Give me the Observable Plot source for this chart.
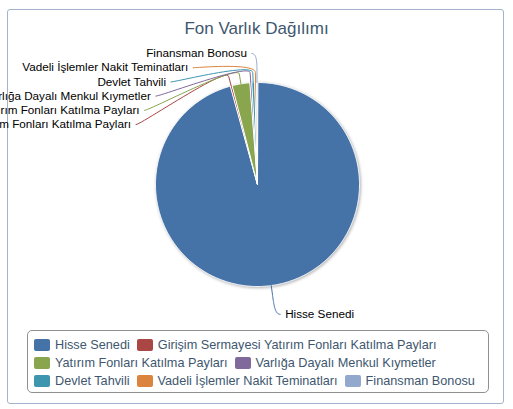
<!DOCTYPE html>
<html>
<head>
<meta charset="utf-8">
<script src="https://cdn.jsdelivr.net/npm/d3@7"></script>
<script src="https://cdn.jsdelivr.net/npm/@observablehq/plot@0.6"></script>
<style>
html, body { margin: 0; padding: 0; background: #fff; }
#wrap { position: relative; width: 513px; height: 409px; overflow: hidden; font-family: "Liberation Sans", Arial, sans-serif; }
#frame { position: absolute; left: 7px; top: 9px; width: 497px; height: 395px; border: 1px solid #a3b3cb; border-radius: 3px; box-sizing: border-box; }
#title { position: absolute; left: 0; top: 20px; width: 513px; text-align: center; font-size: 17px; line-height: 17px; color: #3E576F; }
#chart { position: absolute; left: 0; top: 44px; }
#legend { position: absolute; left: 27px; top: 330px; width: 462px; height: 63px; box-sizing: border-box; padding: 5px 4px 2px 6px; border: 1px solid #909090; border-radius: 5px; display: flex; flex-wrap: wrap; column-gap: 7px; align-content: flex-start; }
.item { display: flex; align-items: center; height: 18px; font-size: 12.7px; color: #3E576F; white-space: nowrap; }
.sym { width: 16px; height: 12px; border-radius: 2px; margin-right: 5px; }
.pie { filter: drop-shadow(1px 1px 1.5px rgba(0,0,0,0.3)); }
</style>
</head>
<body>
<div id="wrap">
  <div id="frame"></div>
  <div id="title"></div>
  <div id="chart"></div>
  <div id="legend"></div>
</div>
<script>
const titleText = "Fon Varlık Dağılımı";
const categories = [
  "Hisse Senedi",
  "Girişim Sermayesi Yatırım Fonları Katılma Payları",
  "Yatırım Fonları Katılma Payları",
  "Varlığa Dayalı Menkul Kıymetler",
  "Devlet Tahvili",
  "Vadeli İşlemler Nakit Teminatları",
  "Finansman Bonosu"
];
const shares = [95.7, 0.3, 2.8, 0.3, 0.45, 0.3, 0.15];
const colors = ["#4572A7", "#AA4643", "#89A54E", "#80699B", "#3D96AE", "#DB843D", "#92A8CD"];

// layout
const W = 513, H = 282;
const cx = 257, cy = 140, r = 102;
const labelR = r + 29, breakR = r + 10, labelGap = 14.2;

document.getElementById("title").textContent = titleText;

// slice angles (clockwise from 12 o'clock)
const total = d3.sum(shares);
let acc = 0;
const slices = categories.map((name, i) => {
  const a0 = acc / total * 2 * Math.PI;
  acc += shares[i];
  const a1 = acc / total * 2 * Math.PI;
  return {name, a0, a1, mid: (a0 + a1) / 2};
});
const pt = (a, rad) => [cx + rad * Math.sin(a), cy - rad * Math.cos(a)];

// pie polygons
const piePts = [];
for (const s of slices) {
  piePts.push({name: s.name, x: cx, y: cy});
  const n = Math.max(2, Math.ceil((s.a1 - s.a0) / (Math.PI / 360)));
  for (let k = 0; k <= n; k++) {
    const [x, y] = pt(s.a0 + (s.a1 - s.a0) * k / n, r);
    piePts.push({name: s.name, x, y});
  }
}

// label placement (stacked per side, Highcharts-like)
const labs = slices.map(s => {
  const [nx, ny] = pt(s.mid, labelR);
  return {...s, left: Math.sin(s.mid) < 0, nx, ny};
});
for (const side of [true, false]) {
  const arr = labs.filter(d => d.left === side).sort((a, b) => a.ny - b.ny);
  let prev = -Infinity;
  for (const d of arr) {
    d.y = Math.max(d.ny, prev + labelGap);
    prev = d.y;
    if (d.y === d.ny) d.x = d.nx;
    else d.x = cx + (side ? -1 : 1) * Math.sqrt(Math.max(0, labelR * labelR - (d.y - cy) ** 2));
  }
}

// soft connectors
const connPts = [];
for (const d of labs) {
  const sgn = d.left ? -1 : 1;
  const p0 = [d.x + sgn * 5, d.y];
  const c1 = [d.x, d.y];
  const b = pt(d.mid, breakR);
  const base = pt(d.mid, r);
  const c2 = [2 * b[0] - base[0], 2 * b[1] - base[1]];
  for (let k = 0; k <= 24; k++) {
    const t = k / 24, u = 1 - t;
    const x = u*u*u*p0[0] + 3*u*u*t*c1[0] + 3*u*t*t*c2[0] + t*t*t*b[0];
    const y = u*u*u*p0[1] + 3*u*u*t*c1[1] + 3*u*t*t*c2[1] + t*t*t*b[1];
    connPts.push({name: d.name, x, y});
  }
  connPts.push({name: d.name, x: base[0], y: base[1]});
}

const chart = Plot.plot({
  width: W, height: H, margin: 0,
  x: {domain: [0, W], range: [0, W], axis: null},
  y: {domain: [0, H], range: [0, H], axis: null},
  color: {domain: categories, range: colors},
  style: {fontFamily: '"Liberation Sans", Arial, sans-serif', background: "transparent", overflow: "visible"},
  marks: [
    Plot.line(piePts, {x: "x", y: "y", z: "name", fill: "name", stroke: "white", strokeWidth: 1, strokeLinejoin: "round", curve: "linear-closed", className: "pie"}),
    Plot.line(connPts, {x: "x", y: "y", z: "name", stroke: "name", strokeWidth: 1}),
    Plot.text(labs.filter(d => d.left), {x: d => d.x - 10, y: "y", text: "name", textAnchor: "end", fill: "#000", fontSize: 11.7}),
    Plot.text(labs.filter(d => !d.left), {x: d => d.x + 10, y: "y", text: "name", textAnchor: "start", fill: "#000", fontSize: 11.7})
  ]
});
document.getElementById("chart").appendChild(chart);

// legend
const legend = document.getElementById("legend");
categories.forEach((name, i) => {
  const item = document.createElement("div");
  item.className = "item";
  const sym = document.createElement("span");
  sym.className = "sym";
  sym.style.background = colors[i];
  const txt = document.createElement("span");
  txt.textContent = name;
  item.appendChild(sym);
  item.appendChild(txt);
  legend.appendChild(item);
});
</script>
</body>
</html>
